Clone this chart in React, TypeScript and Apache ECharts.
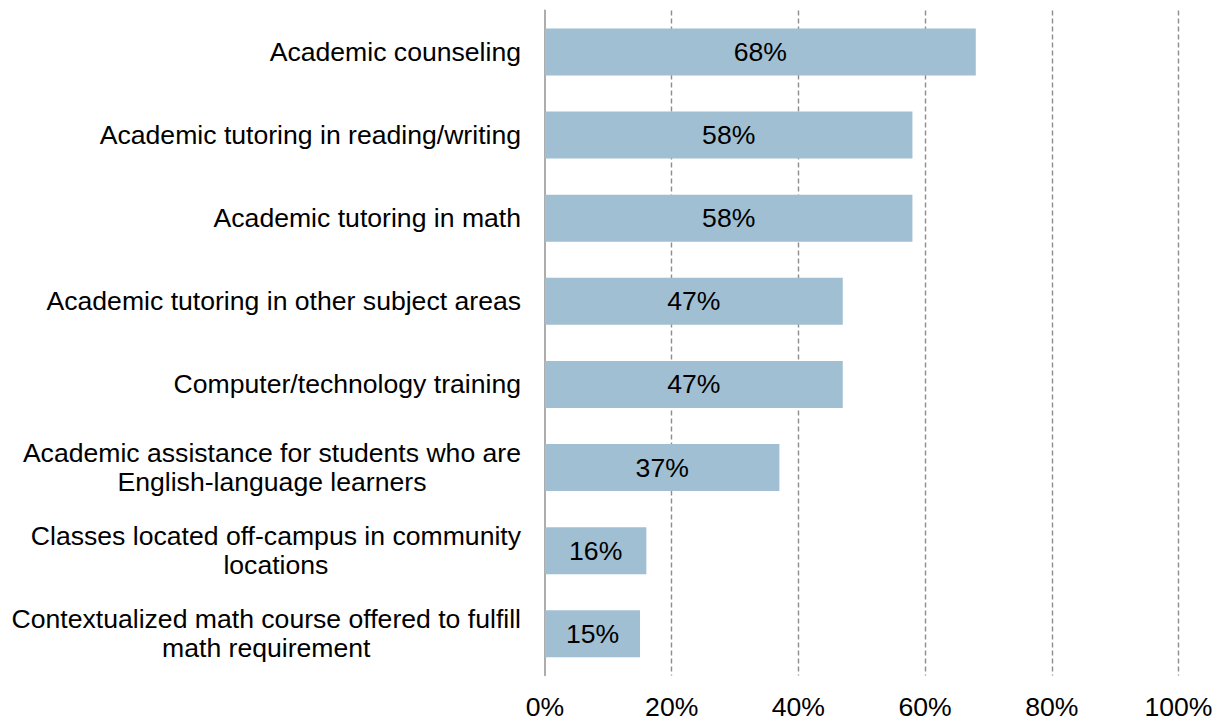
import React, { useEffect, useRef } from "react";
import * as echarts from "echarts";

const categories = [
  "Academic counseling",
  "Academic tutoring in reading/writing",
  "Academic tutoring in math",
  "Academic tutoring in other subject areas",
  "Computer/technology training",
  "Academic assistance for students who are\nEnglish-language learners",
  "Classes located off-campus in community\nlocations",
  "Contextualized math course offered to fulfill\nmath requirement",
];
const values = [68, 58, 58, 47, 47, 37, 16, 15];
const xTicks = [0, 20, 40, 60, 80, 100];

const FONT = '"Liberation Sans", Arial, Helvetica, sans-serif';
const FS = 26.6;

export default function App() {
  const ref = useRef<HTMLDivElement>(null);
  useEffect(() => {
    if (!ref.current) return;
    const chart = echarts.init(ref.current, null, { renderer: "svg" });
    const gridColors = xTicks.map((t, i) => (i === 0 ? "rgba(0,0,0,0)" : "#8c8c8c"));
    chart.setOption({
      animation: false,
      backgroundColor: "#ffffff",
      textStyle: { fontFamily: FONT },
      grid: {
        left: 545,
        right: 39.5,
        top: 10.4,
        bottom: 45.6,
        containLabel: false,
        outerBoundsMode: "none",
      },
      xAxis: {
        type: "value",
        min: xTicks[0],
        max: xTicks[xTicks.length - 1],
        interval: 20,
        axisLine: { show: false },
        axisTick: { show: false },
        axisLabel: {
          formatter: (v: number) => `${v}%`,
          fontSize: FS,
          lineHeight: 22,
          color: "#000",
          margin: 21,
          fontFamily: FONT,
        },
        splitLine: {
          show: true,
          lineStyle: { color: gridColors, width: 1.4, type: [5, 3] },
        },
      },
      yAxis: {
        type: "category",
        data: categories,
        inverse: true,
        axisLine: { show: true, lineStyle: { color: "#999999", width: 1.6 } },
        axisTick: { show: false },
        splitLine: { show: false },
        axisLabel: {
          margin: 24,
          align: "right",
          color: "#000",
          fontSize: FS,
          lineHeight: 29,
          fontFamily: FONT,
          formatter: (v: string) =>
            v
              .split("\n")
              .map((l) => `{c|${l}}`)
              .join("\n"),
          rich: {
            c: {
              align: "center",
              fontSize: FS,
              lineHeight: 29,
              color: "#000",
              fontFamily: FONT,
            },
          },
        },
      },
      series: [
        {
          type: "bar",
          data: values,
          barWidth: 47,
          itemStyle: { color: "#a0bfd2" },
          label: {
            show: true,
            position: "inside",
            formatter: (p: any) => `${p.value}%`,
            fontSize: FS,
            color: "#000",
            fontFamily: FONT,
          },
        },
      ],
    });
    return () => chart.dispose();
  }, []);
  return (
    <div
      ref={ref}
      style={{ position: "fixed", left: 0, top: 0, width: 1218, height: 721 }}
    />
  );
}
